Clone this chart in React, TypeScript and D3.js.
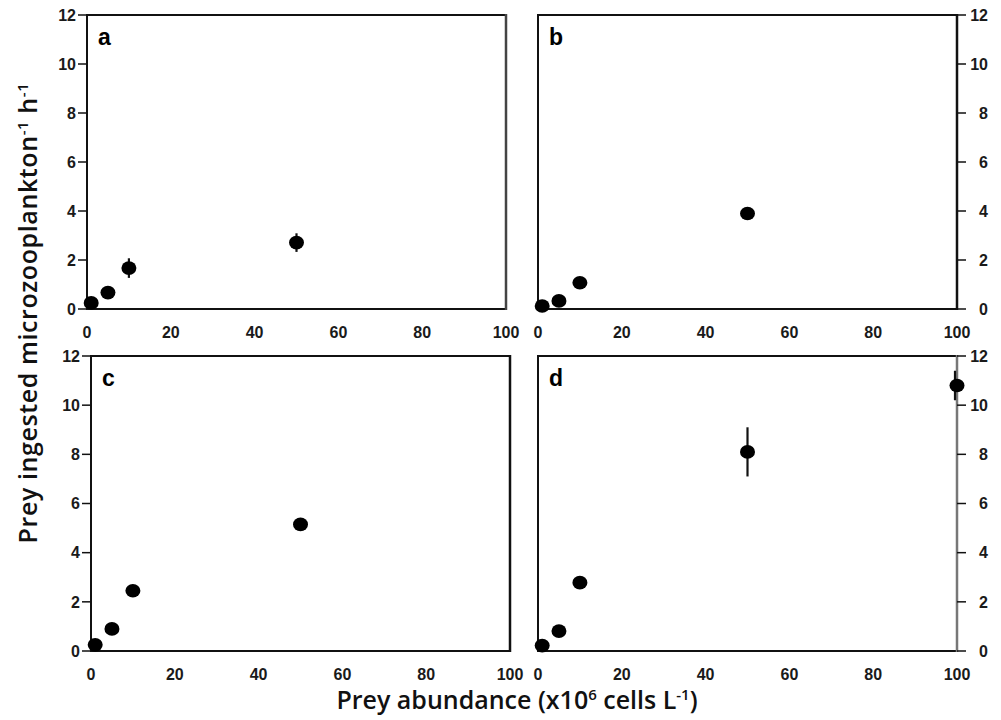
import React from "react";
import * as d3 from "d3";

// ---- Data ----
const preyAbundance = [1, 5, 10, 50, 100];
const xTicks = [0, 20, 40, 60, 80, 100];
const yTicks = [0, 2, 4, 6, 8, 10, 12];

const panelLabels = ["a", "b", "c", "d"];
const valuesA = [0.25, 0.67, 1.67, 2.71];
const errA = [0, 0, 0.4, 0.38];
const valuesB = [0.12, 0.33, 1.07, 3.9];
const errB = [0, 0, 0, 0];
const valuesC = [0.25, 0.9, 2.45, 5.15];
const errC = [0, 0, 0, 0];
const valuesD = [0.22, 0.81, 2.78, 8.1, 10.8];
const errD = [0, 0, 0, 1.0, 0.6];

const seriesValues = [valuesA, valuesB, valuesC, valuesD];
const seriesErrors = [errA, errB, errC, errD];

// ---- Layout ----
const boxes = [
  { left: 87, right: 506, top: 15, bottom: 309, side: "left", rightEdge: "#444" },
  { left: 538, right: 957, top: 15, bottom: 309, side: "right", rightEdge: "#111" },
  { left: 91, right: 510, top: 356, bottom: 651, side: "left", rightEdge: "#111" },
  { left: 538, right: 957, top: 356, bottom: 651, side: "right", rightEdge: "#777" },
];

const tickFont = "'Liberation Sans', Arial, sans-serif";
const labelFont = "'Open Sans', 'Noto Sans', sans-serif";
const ink = "#111";

function Panel({ idx }: { idx: number }) {
  const b = boxes[idx];
  const x = d3.scaleLinear().domain([0, 100]).range([b.left, b.right]);
  const y = d3.scaleLinear().domain([0, 12]).range([b.bottom, b.top]);
  const vals = seriesValues[idx];
  const errs = seriesErrors[idx];
  const isLeft = b.side === "left";
  return (
    <g>
      <path
        d={`M${b.right},${b.top} H${b.left} V${b.bottom} H${b.right}`}
        fill="none"
        stroke={ink}
        strokeWidth={2}
      />
      <line
        x1={b.right}
        x2={b.right}
        y1={b.top - 1}
        y2={b.bottom + 1}
        stroke={b.rightEdge}
        strokeWidth={2.5}
      />
      {/* y ticks */}
      {yTicks.map((t) => (
        <g key={"y" + t}>
          <line
            x1={isLeft ? x(0) - 9 : x(100)}
            x2={isLeft ? x(0) : x(100) + 9}
            y1={y(t)}
            y2={y(t)}
            stroke={ink}
            strokeWidth={1.5}
          />
          <text
            x={isLeft ? x(0) - 11 : x(100) + 31}
            y={y(t)}
            dy="0.36em"
            textAnchor="end"
            fontFamily={tickFont}
            fontWeight={700}
            fontSize={16}
            fill="#1a1a1a"
          >
            {t}
          </text>
        </g>
      ))}
      {/* x tick labels */}
      {xTicks.map((t) => (
        <text
          key={"x" + t}
          x={x(t)}
          y={b.bottom + 23}
          dy="0.36em"
          textAnchor="middle"
          fontFamily={tickFont}
          fontWeight={700}
          fontSize={16}
          fill="#1a1a1a"
        >
          {t}
        </text>
      ))}
      {/* error bars */}
      {vals.map((v, i) =>
        errs[i] > 0 ? (
          <line
            key={"e" + i}
            x1={x(preyAbundance[i]) - (preyAbundance[i] === 100 ? 2 : 0)}
            x2={x(preyAbundance[i]) - (preyAbundance[i] === 100 ? 2 : 0)}
            y1={y(v - errs[i])}
            y2={y(v + errs[i])}
            stroke={ink}
            strokeWidth={2.2}
          />
        ) : null
      )}
      {/* points */}
      {vals.map((v, i) => (
        <ellipse
          key={"p" + i}
          cx={x(preyAbundance[i])}
          cy={y(v)}
          rx={7.5}
          ry={6.8}
          fill="#000"
        />
      ))}
      <text
        x={b.left + 11}
        y={b.top + 30}
        fontFamily="'Liberation Sans', Arial, sans-serif"
        fontWeight={700}
        fontSize={23}
        fill="#000"
      >
        {panelLabels[idx]}
      </text>
    </g>
  );
}

export default function App() {
  return (
    <svg
      width={1001}
      height={720}
      style={{ position: "absolute", left: 0, top: 0, background: "#fff" }}
    >
      <rect x={0} y={0} width={1001} height={720} fill="#fff" />
      {boxes.map((_, i) => (
        <Panel key={i} idx={i} />
      ))}
      <text
        transform="translate(37,313) rotate(-90)"
        textAnchor="middle"
        fontFamily={labelFont}
        fontWeight={600}
        fontSize={25}
        letterSpacing={0.6}
        fill="#111"
      >
        Prey ingested microzooplankton
        <tspan dy="-9" fontSize={15}>-1</tspan>
        <tspan dy="9"> h</tspan>
        <tspan dy="-9" fontSize={15}>-1</tspan>
      </text>
      <text
        x={517}
        y={709}
        textAnchor="middle"
        fontFamily={labelFont}
        fontWeight={600}
        fontSize={25}
        fill="#111"
      >
        Prey abundance (x10
        <tspan dy="-9" fontSize={15}>6</tspan>
        <tspan dy="9"> cells L</tspan>
        <tspan dy="-9" fontSize={15}>-1</tspan>
        <tspan dy="9">)</tspan>
      </text>
    </svg>
  );
}
